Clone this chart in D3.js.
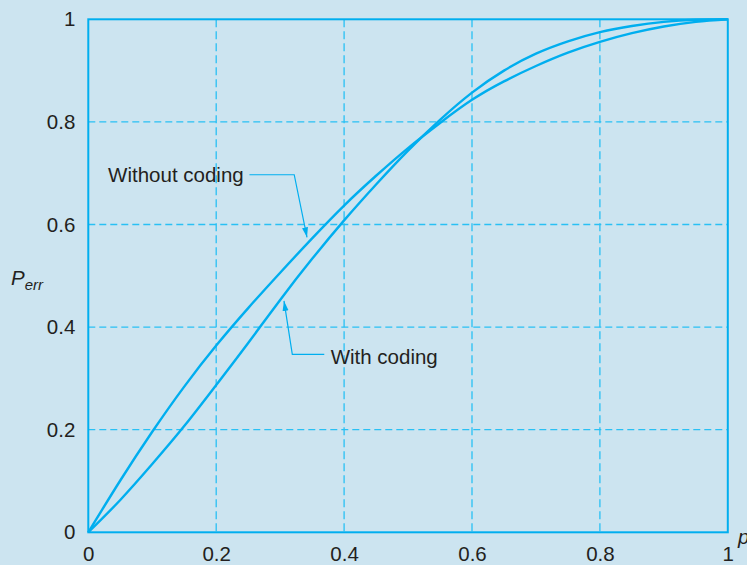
<!DOCTYPE html>
<html>
<head>
<meta charset="utf-8">
<script src="https://cdn.jsdelivr.net/npm/d3@7"></script>
<style>
  body { margin: 0; background: #cce4f0; }
  svg { display: block; }
  .tick text { font-family: "Liberation Sans", Arial, sans-serif; font-size: 20.5px; fill: #231f20; }
  .lbl { font-family: "Liberation Sans", Arial, sans-serif; font-size: 20.5px; fill: #231f20; }
</style>
</head>
<body>
<svg id="chart" width="747" height="565"></svg>
<script>
// data
const pValues = [0, 0.05, 0.1, 0.15, 0.2, 0.25, 0.3, 0.35, 0.4, 0.45, 0.5, 0.55, 0.6, 0.65, 0.7, 0.75, 0.8, 0.85, 0.9, 0.95, 1];
const withoutCoding = [0, 0.101, 0.196, 0.284, 0.364, 0.437, 0.506, 0.573, 0.637, 0.695, 0.749, 0.798, 0.843, 0.879, 0.909, 0.935, 0.956, 0.973, 0.986, 0.995, 1];
const withCoding = [0, 0.063, 0.133, 0.207, 0.287, 0.369, 0.453, 0.533, 0.608, 0.678, 0.744, 0.804, 0.857, 0.900, 0.933, 0.957, 0.975, 0.987, 0.995, 0.999, 1];
const xTicks = [0, 0.2, 0.4, 0.6, 0.8, 1];
const yTicks = [0, 0.2, 0.4, 0.6, 0.8, 1];
const tickLabels = ["0", "0.2", "0.4", "0.6", "0.8", "1"];

const lineColor = "#00aeef";
const gridColor = "#29c0f4";

let margin = { top: 19.3, left: 88.3 },
	width = 639.5,
	height = 513;

let svg = d3.select("#chart");
let chart = svg.append("g")
	.attr("transform", "translate(" + margin.left + "," + margin.top + ")");

let xScale = d3.scaleLinear().domain([0, 1]).range([0, width]);
let yScale = d3.scaleLinear().domain([0, 1]).range([height, 0]);

// dashed grid, inner lines only
chart.append("g").selectAll("line")
	.data(xTicks.slice(1, -1))
	.join("line")
	.attr("x1", d => xScale(d)).attr("x2", d => xScale(d))
	.attr("y1", 0).attr("y2", height)
	.attr("stroke", gridColor).attr("stroke-width", 1.3)
	.attr("stroke-dasharray", "8,4");

chart.append("g").selectAll("line")
	.data(yTicks.slice(1, -1))
	.join("line")
	.attr("x1", 0).attr("x2", width)
	.attr("y1", d => yScale(d)).attr("y2", d => yScale(d))
	.attr("stroke", gridColor).attr("stroke-width", 1.3)
	.attr("stroke-dasharray", "7,4");

// frame
chart.append("rect")
	.attr("x", 0).attr("y", 0)
	.attr("width", width).attr("height", height)
	.attr("fill", "none")
	.attr("stroke", lineColor).attr("stroke-width", 2);

// axes (labels only)
let xAxis = chart.append("g")
	.attr("transform", "translate(0," + height + ")")
	.call(d3.axisBottom(xScale).tickValues(xTicks).tickSize(0).tickPadding(14)
		.tickFormat((d, i) => tickLabels[i]));
xAxis.select(".domain").remove();
xAxis.selectAll("text").attr("dy", "0.71em");

let yAxis = chart.append("g")
	.call(d3.axisLeft(yScale).tickValues(yTicks).tickSize(0).tickPadding(13)
		.tickFormat((d, i) => tickLabels[i]));
yAxis.select(".domain").remove();

// curves
let line = d3.line()
	.x(d => xScale(d[0]))
	.y(d => yScale(d[1]))
	.curve(d3.curveNatural);

[withoutCoding, withCoding].forEach(series => {
	chart.append("path")
		.datum(pValues.map((p, i) => [p, series[i]]))
		.attr("d", line)
		.attr("fill", "none")
		.attr("stroke", lineColor)
		.attr("stroke-width", 2.4);
});

// arrow marker
svg.append("defs").append("marker")
	.attr("id", "arrow")
	.attr("viewBox", "0 0 10 10")
	.attr("refX", 10).attr("refY", 5)
	.attr("markerWidth", 10).attr("markerHeight", 10)
	.attr("markerUnits", "userSpaceOnUse")
	.attr("orient", "auto")
	.append("path")
	.attr("d", "M0,2 L10,5 L0,8 Z")
	.attr("fill", lineColor);

// annotations, anchored in data coordinates
chart.append("text").attr("class", "lbl")
	.attr("x", xScale(0.031)).attr("y", yScale(0.683))
	.text("Without coding");
chart.append("path")
	.attr("d", d3.line()([
		[xScale(0.252), yScale(0.697)],
		[xScale(0.322), yScale(0.697)],
		[xScale(0.342), yScale(0.575)]
	]))
	.attr("fill", "none").attr("stroke", lineColor).attr("stroke-width", 1.2)
	.attr("marker-end", "url(#arrow)");

chart.append("text").attr("class", "lbl")
	.attr("x", xScale(0.379)).attr("y", yScale(0.328))
	.text("With coding");
chart.append("path")
	.attr("d", d3.line()([
		[xScale(0.369), yScale(0.347)],
		[xScale(0.319), yScale(0.347)],
		[xScale(0.306), yScale(0.451)]
	]))
	.attr("fill", "none").attr("stroke", lineColor).attr("stroke-width", 1.2)
	.attr("marker-end", "url(#arrow)");

// axis titles
let yTitle = svg.append("text").attr("class", "lbl")
	.attr("x", 11).attr("y", 285)
	.style("font-style", "italic").style("font-size", "20.5px");
yTitle.append("tspan").text("P");
yTitle.append("tspan").attr("dy", 5).style("font-size", "15px").text("err");

svg.append("text").attr("class", "lbl")
	.attr("x", 738).attr("y", 544)
	.style("font-style", "italic").style("font-size", "20.5px")
	.text("p");
</script>
</body>
</html>
